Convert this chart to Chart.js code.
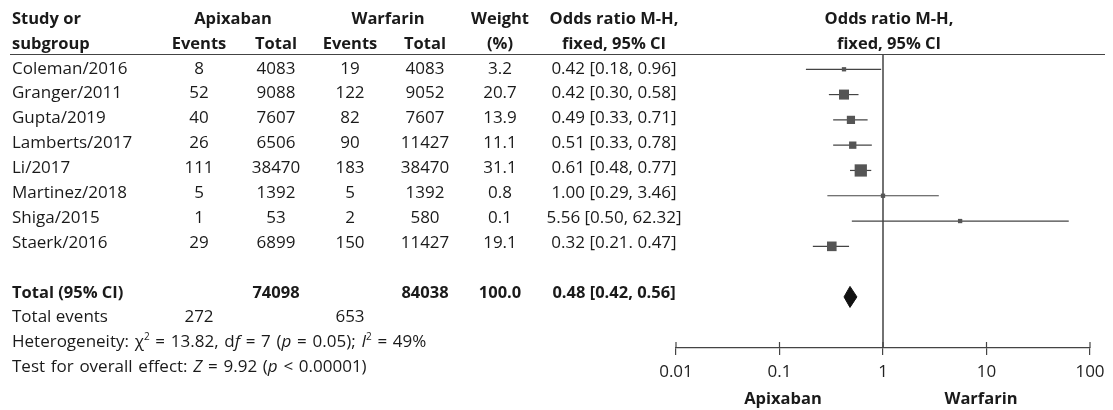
<!DOCTYPE html>
<html>
<head>
<meta charset="utf-8">
<script src="https://cdn.jsdelivr.net/npm/chart.js@4.4.1/dist/chart.umd.min.js"></script>
<style>
  html, body { margin: 0; padding: 0; background: #fff; }
  #wrap { position: relative; width: 1113px; height: 410px; overflow: hidden; font-family: "Open Sans", sans-serif; font-size: 17px; color: #1a1a1a; }
  #plot { position: absolute; left: 0; top: 0; }
  .t { position: absolute; white-space: nowrap; line-height: 22px; }
  .b { font-weight: bold; font-size: 16.5px; }
  .w { word-spacing: 1.3px; }
  #rule { position: absolute; left: 10px; top: 54px; width: 1095px; border-top: 1px solid #444; }
  sup { font-size: 10px; vertical-align: 7px; line-height: 0; }
</style>
</head>
<body>
<div id="wrap">
  <canvas id="plot" width="1113" height="410"></canvas>
  <div id="rule"></div>
</div>
<script>
// study data
const studies = ['Coleman/2016', 'Granger/2011', 'Gupta/2019', 'Lamberts/2017', 'Li/2017', 'Martinez/2018', 'Shiga/2015', 'Staerk/2016'];
const apixEvents = [8, 52, 40, 26, 111, 5, 1, 29];
const apixTotal = [4083, 9088, 7607, 6506, 38470, 1392, 53, 6899];
const warfEvents = [19, 122, 82, 90, 183, 5, 2, 150];
const warfTotal = [4083, 9052, 7607, 11427, 38470, 1392, 580, 11427];
const weights = ['3.2', '20.7', '13.9', '11.1', '31.1', '0.8', '0.1', '19.1'];
const oddsRatio = [0.42, 0.42, 0.49, 0.51, 0.61, 1.00, 5.56, 0.32];
const ciLow = [0.18, 0.30, 0.33, 0.33, 0.48, 0.29, 0.50, 0.21];
const ciHigh = [0.96, 0.58, 0.71, 0.78, 0.77, 3.46, 62.32, 0.47];
const ciLabels = ['0.42 [0.18, 0.96]', '0.42 [0.30, 0.58]', '0.49 [0.33, 0.71]', '0.51 [0.33, 0.78]',
  '0.61 [0.48, 0.77]', '1.00 [0.29, 3.46]', '5.56 [0.50, 62.32]', '0.32 [0.21. 0.47]'];

// pooled result
const totalRow = ['Total (95% CI)', '', '74098', '', '84038', '100.0', '0.48 [0.42, 0.56]'];
const totalEvents = ['Total events', '272', '', '653'];
const pooled = [0.48, 0.42, 0.56]; // OR, low, high

// axis
const tickValues = [0.01, 0.1, 1, 10, 100];
const tickLabels = ['0.01', '0.1', '1', '10', '100'];
const favourLabels = ['Apixaban', 'Warfarin'];

// ---- table text (HTML) ----
const wrap = document.getElementById('wrap');
function put(text, x, y, align, cls) {
  const d = document.createElement('div');
  d.className = 't' + (cls ? ' ' + cls : '');
  d.innerHTML = text;
  d.style.top = (y - 11) + 'px';
  d.style.left = x + 'px';
  if (align !== 'left') d.style.transform = 'translateX(-50%)';
  wrap.appendChild(d);
}

const colX = [12, 199, 276, 350, 425, 500, 614]; // study, events, total, events, total, weight, OR
put('Study or', 12, 18, 'left', 'b');
put('subgroup', 12, 43, 'left', 'b');
put('Apixaban', 233, 18, 'c', 'b');
put('Warfarin', 388, 18, 'c', 'b');
put('Events', colX[1], 43, 'c', 'b');
put('Total', colX[2], 43, 'c', 'b');
put('Events', colX[3], 43, 'c', 'b');
put('Total', colX[4], 43, 'c', 'b');
put('Weight', colX[5], 18, 'c', 'b');
put('(%)', colX[5], 43, 'c', 'b');
put('Odds ratio M-H,', colX[6], 18, 'c', 'b');
put('fixed, 95% CI', colX[6], 43, 'c', 'b');
put('Odds ratio M-H,', 889, 18, 'c', 'b');
put('fixed, 95% CI', 889, 43, 'c', 'b');

studies.forEach((s, i) => {
  const y = 67.5 + 24.9 * i;
  put(s, colX[0], y, 'left');
  put(String(apixEvents[i]), colX[1], y, 'c');
  put(String(apixTotal[i]), colX[2], y, 'c');
  put(String(warfEvents[i]), colX[3], y, 'c');
  put(String(warfTotal[i]), colX[4], y, 'c');
  put(weights[i], colX[5], y, 'c');
  put(ciLabels[i], colX[6], y, 'c');
});

totalRow.forEach((v, k) => { if (v) put(v, colX[k], 291.5, k === 0 ? 'left' : 'c', 'b'); });
totalEvents.forEach((v, k) => { if (v) put(v, colX[k], 316, k === 0 ? 'left' : 'c'); });
put('Heterogeneity: &chi;<sup>2</sup> = 13.82, d<i>f</i> = 7 (<i>p</i> = 0.05); <i>I</i><sup>2</sup> = 49%', 12, 341, 'left', 'w');
put('Test for overall effect: <i>Z</i> = 9.92 (<i>p</i> &lt; 0.00001)', 12, 365.5, 'left', 'w');
put(favourLabels[0], 783, 398, 'c', 'b');
put(favourLabels[1], 981, 398, 'c', 'b');

// ---- forest plot (Chart.js) ----
const rowPx = 25.3;            // pixels per row on the y scale
const diamondHalf = 10.5 / rowPx;
const lineColor = '#444';

const datasets = [];
studies.forEach((s, i) => {
  datasets.push({
    type: 'line',
    data: [{ x: ciLow[i], y: i }, { x: ciHigh[i], y: i }],
    borderColor: lineColor, borderWidth: 1.2, pointRadius: 0, order: 2
  });
});
datasets.push({
  type: 'scatter',
  data: studies.map((s, i) => ({ x: oddsRatio[i], y: i })),
  pointStyle: 'rect',
  pointRadius: weights.map(w => Math.max(4.3, 2.2 * Math.sqrt(parseFloat(w))) / Math.SQRT2),
  backgroundColor: '#555', borderColor: '#555', borderWidth: 0, order: 0
});
datasets.push({
  type: 'line',
  data: [
    { x: pooled[1], y: 9 }, { x: pooled[0], y: 9 - diamondHalf },
    { x: pooled[2], y: 9 }, { x: pooled[0], y: 9 + diamondHalf }, { x: pooled[1], y: 9 }
  ],
  borderColor: '#111', borderWidth: 1, backgroundColor: '#111', fill: 'shape',
  pointRadius: 0, tension: 0, order: 0
});
datasets.push({
  type: 'line',
  data: [{ x: 1, y: -0.565 }, { x: 1, y: 11.02 }],
  borderColor: lineColor, borderWidth: 1.5, pointRadius: 0, order: 1
});

const upTicks = {
  id: 'upTicks',
  afterDraw(chart) {
    const sx = chart.scales.x, ctx = chart.ctx, yb = chart.chartArea.bottom;
    ctx.save();
    ctx.strokeStyle = lineColor;
    ctx.lineWidth = 1.2;
    tickValues.forEach(v => {
      const px = sx.getPixelForValue(v);
      ctx.beginPath();
      ctx.moveTo(px, yb - 6);
      ctx.lineTo(px, yb);
      ctx.stroke();
    });
    ctx.restore();
  }
};

new Chart(document.getElementById('plot'), {
  type: 'scatter',
  data: { datasets },
  options: {
    responsive: false,
    animation: false,
    layout: { padding: { left: 676, right: 23, top: 55, bottom: 0 } },
    plugins: { legend: { display: false }, tooltip: { enabled: false } },
    scales: {
      x: {
        type: 'logarithmic', min: 0.01, max: 100, position: 'bottom',
        afterBuildTicks: (scale) => { scale.ticks = tickValues.map(v => ({ value: v })); },
        afterFit: (scale) => { scale.height = 62; },
        ticks: {
          autoSkip: false, maxRotation: 0, padding: 7, color: '#222',
          font: { family: 'Open Sans', size: 17 },
          callback: (v) => tickLabels[tickValues.indexOf(v)] ?? ''
        },
        grid: { drawOnChartArea: false, drawTicks: true, tickLength: 7, color: lineColor, lineWidth: 1.2 },
        border: { display: true, color: lineColor, width: 1.2 }
      },
      y: { display: false, min: -0.565, max: 11.02, reverse: true }
    }
  },
  plugins: [upTicks]
});
</script>
</body>
</html>
